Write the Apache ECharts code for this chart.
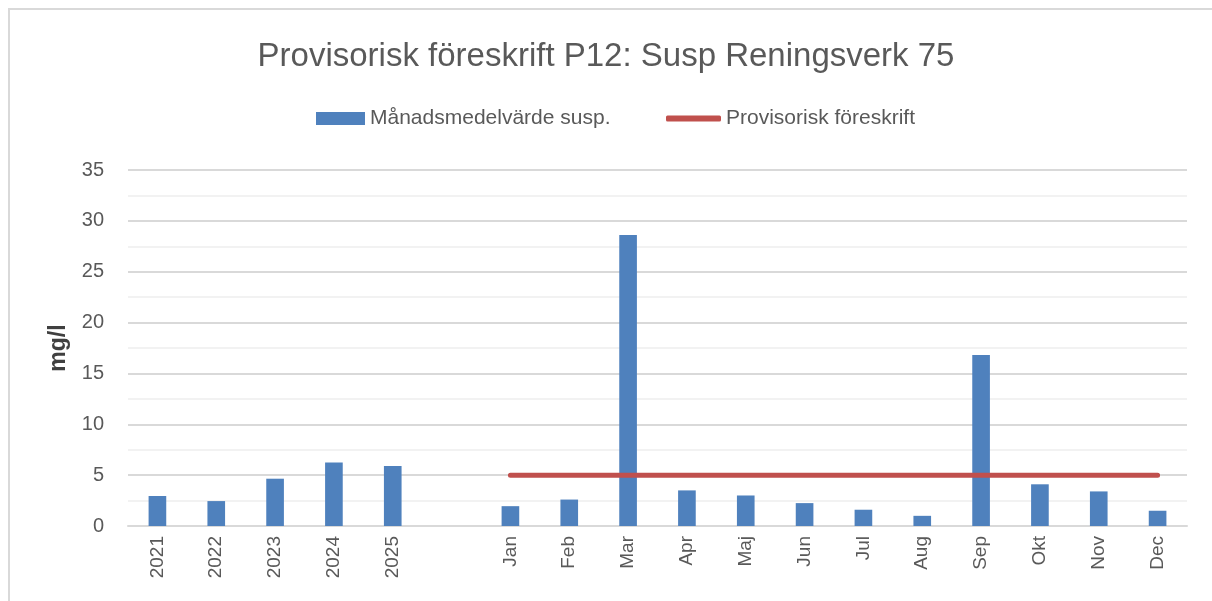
<!DOCTYPE html>
<html>
<head>
<meta charset="utf-8">
<script src="https://cdn.jsdelivr.net/npm/echarts@6/dist/echarts.min.js"></script>
<style>
  html, body { margin: 0; padding: 0; background: #fff; }
  #frame { position: absolute; left: 8px; top: 8px; width: 1220px; height: 610px;
           border-top: 2px solid #d9d9d9; border-left: 2px solid #d9d9d9; }
  #main { position: absolute; left: 0; top: 0; width: 1212px; height: 601px; }
</style>
</head>
<body>
<div id="frame"></div>
<div id="main"></div>
<script>
// kategorier: år, ett tomt mellanrum, sedan månader
const categories = ['2021', '2022', '2023', '2024', '2025', '',
  'Jan', 'Feb', 'Mar', 'Apr', 'Maj', 'Jun', 'Jul', 'Aug', 'Sep', 'Okt', 'Nov', 'Dec'];

const suspValues = [2.95, 2.45, 4.65, 6.25, 5.9, null,
  1.95, 2.6, 28.6, 3.5, 3.0, 2.25, 1.6, 1.0, 16.8, 4.1, 3.4, 1.5];

// provisorisk föreskrift gäller bara månaderna
const limitValues = [null, null, null, null, null, null,
  5, 5, 5, 5, 5, 5, 5, 5, 5, 5, 5, 5];

const yTicks = [0, 5, 10, 15, 20, 25, 30, 35];

const txt = '#595959';
const font = "'Liberation Sans', Arial, sans-serif";

let chart = echarts.init(document.getElementById('main'));
let option = {
  animation: false,
  textStyle: { fontFamily: font },
  title: {
    text: 'Provisorisk föreskrift P12: Susp Reningsverk 75',
    left: 'center',
    top: 35,
    textStyle: { fontSize: 33, fontWeight: 'normal', color: txt, fontFamily: font }
  },
  legend: [
    {
      data: ['Månadsmedelvärde susp.'],
      left: 311, top: 103,
      icon: 'rect', itemWidth: 49, itemHeight: 13, itemGap: 5,
      textStyle: { fontSize: 21, color: txt, fontFamily: font }
    },
    {
      data: ['Provisorisk föreskrift'],
      left: 661, top: 103,
      icon: 'roundRect', itemWidth: 55, itemHeight: 6,
      textStyle: { fontSize: 21, color: txt, fontFamily: font }
    }
  ],
  grid: { left: 128, right: 25, top: 170, bottom: 75, containLabel: false },
  xAxis: {
    type: 'category',
    data: categories,
    axisTick: { show: false },
    axisLine: { lineStyle: { color: '#d9d9d9', width: 2 } },
    axisLabel: { rotate: 90, fontSize: 19, color: txt, margin: 10, interval: 0 }
  },
  yAxis: {
    type: 'value',
    min: yTicks[0],
    max: yTicks[yTicks.length - 1],
    interval: 5,
    name: 'mg/l',
    nameLocation: 'middle',
    nameGap: 58,
    nameTextStyle: { fontSize: 23, color: '#404040', fontWeight: 'bold', fontFamily: font },
    axisLine: { show: false },
    axisTick: { show: false },
    axisLabel: { fontSize: 20, color: txt, margin: 24 },
    splitLine: { lineStyle: { color: '#d9d9d9', width: 2 } },
    minorTick: { show: false, splitNumber: 2 },
    minorSplitLine: { show: true, lineStyle: { color: '#f2f2f2', width: 2 } }
  },
  series: [
    {
      name: 'Månadsmedelvärde susp.',
      type: 'bar',
      data: suspValues,
      barWidth: '30%',
      itemStyle: { color: '#4f81bd' }
    },
    {
      name: 'Provisorisk föreskrift',
      type: 'line',
      data: limitValues,
      showSymbol: false,
      symbol: 'none',
      lineStyle: { color: '#c0504d', width: 5, cap: 'round' },
      itemStyle: { color: '#c0504d' }
    }
  ]
};
chart.setOption(option);
</script>
</body>
</html>
